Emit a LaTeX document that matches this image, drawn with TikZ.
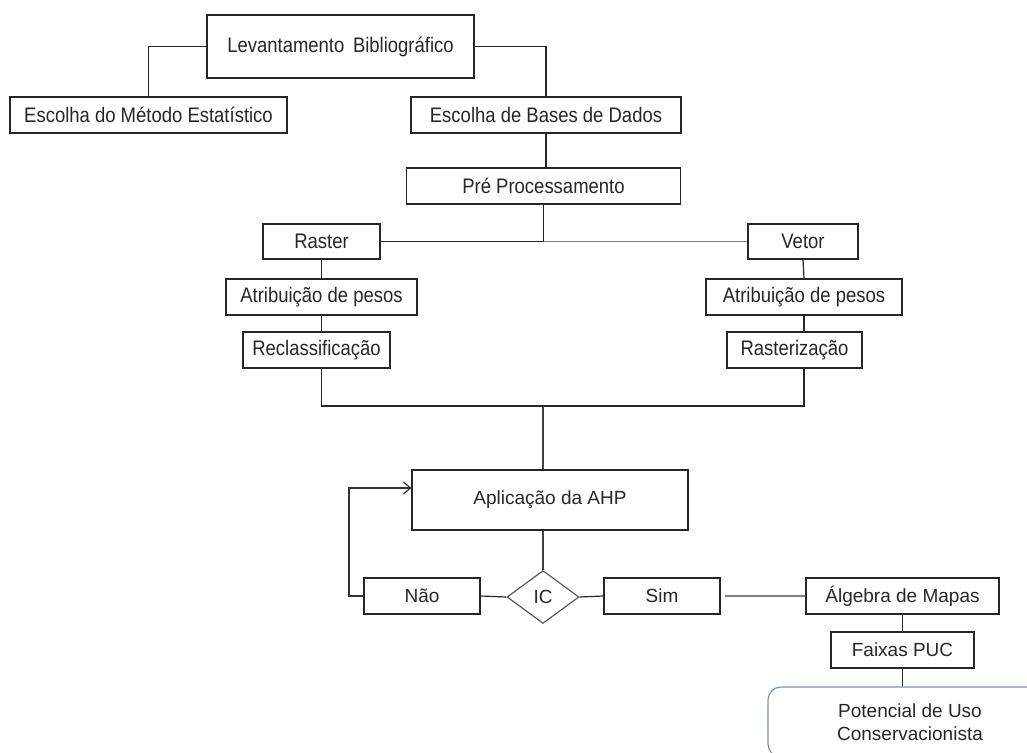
\documentclass[tikz,border=0pt]{standalone}
\usepackage{fontspec}
\setmainfont{Liberation Sans}
\newfontfamily\estreita{Liberation Sans}[FakeStretch=0.88]
\usetikzlibrary{arrows.meta,shapes.geometric}
\definecolor{bordaazul}{HTML}{7A93B4}

\begin{document}
\begin{tikzpicture}[x=1pt, y=-1pt, line width=1.2pt,
	every node/.style={font=\fontsize{19}{23}\selectfont, text=black!85},
	bloco/.style={draw=black!85, inner sep=0pt, minimum height=36},
	estreito/.style={bloco, font=\estreita\fontsize{21}{25}\selectfont},
	>={Straight Barb[length=7pt, width=12pt]}]
	\useasboundingbox (0,0) rectangle (1027,752);
	% etapa inicial
	\node[estreito, minimum width=267, minimum height=63] (lev) at (340.5,46.5) {Levantamento\ \,Bibliográfico};
	\node[estreito, minimum width=277] (metodo) at (148.5,115) {Escolha do Método Estatístico};
	\node[estreito, minimum width=270] (bases) at (546,115) {Escolha de Bases de Dados};
	\node[estreito, minimum width=274] (pre) at (543.5,186) {Pré Processamento};
	% ramos raster e vetor
	\node[estreito, minimum width=117, minimum height=35] (raster) at (321.5,241.5) {Raster};
	\node[estreito, minimum width=110, minimum height=35] (vetor) at (803,241.5) {Vetor};
	\node[estreito, minimum width=191] (atrL) at (321.5,297) {Atribuição de pesos};
	\node[estreito, minimum width=196] (atrR) at (804,297) {Atribuição de pesos};
	\node[estreito, minimum width=147] (recl) at (316.5,350) {Reclassificação};
	\node[estreito, minimum width=135] (rast) at (794.5,350) {Rasterização};
	% AHP e consistencia
	\node[bloco, minimum width=276, minimum height=60] (aplic) at (550,500) {Aplicação da AHP};
	\node[diamond, draw=black!65, inner sep=0pt, aspect=1.36, minimum width=72, minimum height=53] (ic) at (543,597) {IC};
	\node[bloco, minimum width=116] (nao) at (422,596) {Não};
	\node[bloco, minimum width=116] (sim) at (662,596) {Sim};
	\node[bloco, minimum width=193] (alg) at (902.5,596) {Álgebra de Mapas};
	\node[bloco, minimum width=143] (faixas) at (902.5,650) {Faixas PUC};
	\node[draw=bordaazul, rounded corners=13pt, inner sep=0pt, minimum width=284, minimum height=70, align=center] (pot) at (910,722) {Potencial de Uso\\Conservacionista};
	% ligacoes
	\draw[black!85] (lev.west) -| (metodo.north);
	\draw[black!85] (lev.east) -| (bases.north);
	\draw[black!85] (bases.south) -- (bases.south |- pre.north);
	\coordinate (jtop) at (pre.south |- raster.east);
	\draw[black!85] (pre.south) -- (jtop);
	\draw[black!85] (raster.east) -- (jtop);
	\draw[black!50] (jtop) -- (vetor.west);
	\draw[black!85] (raster.south) -- (atrL.north);
	\draw[black!85] (atrL.south) -- (atrL.south |- recl.north);
	\draw[black!85] (vetor.south) -- (atrR.north);
	\draw[black!85] (atrR.south) -- (atrR.south |- rast.north);
	\coordinate (jbot) at (543,406);
	\draw[black!85] (atrL.south |- recl.south) |- (jbot) -| (atrR.south |- rast.south);
	\draw[black!75] (jbot) -- (jbot |- aplic.north);
	\draw[black!75] (ic.north |- aplic.south) -- (ic.north);
	\draw[black!85] (nao.east) -- (ic.west);
	\draw[black!85] (ic.east) -- (sim.west);
	\draw[black!80, ->] (nao.west) -- (349,596) |- ([yshift=12pt]aplic.west);
	\draw[black!50] ([xshift=4pt]sim.east) -- (alg.west);
	\draw[black!85] (alg.south) -- (faixas.north);
	\draw[black!85] (faixas.south) -- (faixas.south |- pot.north);
\end{tikzpicture}
\end{document}
